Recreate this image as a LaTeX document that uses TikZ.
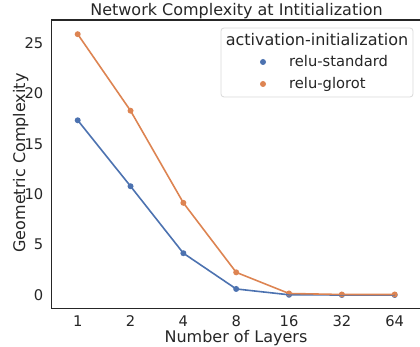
\documentclass[tikz,border=0pt]{standalone}
\usepackage{fontspec}
\setmainfont{DejaVu Sans}
\definecolor{sblue}{HTML}{4C72B0}
\definecolor{sorange}{HTML}{DD8452}
\definecolor{txt}{HTML}{262626}
\begin{document}
\begin{tikzpicture}[x=1pt,y=1pt,
  spine/.style={draw=txt,line width=1.1pt},
  tick/.style={text=txt,inner sep=0pt,font=\fontsize{14.7}{16}\selectfont},
  lbl/.style={text=txt,inner sep=0pt,font=\fontsize{16}{18}\selectfont},
  bline/.style={sblue,line width=1.6pt,line join=round},
  oline/.style={sorange,line width=1.6pt,line join=round},
  bdot/.style={circle,fill=sblue,inner sep=0pt,minimum size=6pt},
  odot/.style={circle,fill=sorange,inner sep=0pt,minimum size=6pt}]
\useasboundingbox (0,0) rectangle (420,347);
% spines
\draw[spine] (420,327) -- (51.5,327) -- (51.5,38.7) -- (420,38.7);
% title
\node[lbl,anchor=base] (title) at (236.5,331.5) {Network Complexity at Intitialization};
% y ticks
\foreach \v/\n in {0/y0,5/y5,10/y10,15/y15,20/y20,25/y25}
  \node[tick,anchor=east] (\n) at (43.5,{52+10.07*\v}) {\v};
% x ticks
\foreach \l [count=\i from 0] in {1,2,4,8,16,32,64}
  \node[tick,anchor=base] (x\i) at ({77.7+52.83*\i},20.5) {\l};
\node[lbl,anchor=base] (xlab) at (236,4.5) {Number of Layers};
\node[lbl,rotate=90,anchor=base] (ylab) at (25,184) {Geometric Complexity};
% data
\foreach \v [count=\i from 0] in {17.35,10.8,4.15,0.6,0.02,0,0}
  \node[bdot] (b\i) at ({77.7+52.83*\i},{52+10.07*\v}) {};
\foreach \v [count=\i from 0] in {25.9,18.3,9.15,2.25,0.15,0.05,0.05}
  \node[odot] (o\i) at ({77.7+52.83*\i},{52+10.07*\v}) {};
\draw[bline] (b0.center) -- (b1.center) -- (b2.center) -- (b3.center) -- (b4.center) -- (b5.center) -- (b6.center);
\draw[oline] (o0.center) -- (o1.center) -- (o2.center) -- (o3.center) -- (o4.center) -- (o5.center) -- (o6.center);
% legend
\draw[draw=black!15,fill=white,rounded corners=3pt,line width=0.8pt] (221,319) rectangle (413,250);
\node[lbl,anchor=base] (legtitle) at (317,301) {activation-initialization};
\node[bdot] (lb) at (263,285) {};
\node[odot] (lo) at (263,263) {};
\node[tick,anchor=base west] (lbt) at (289,280) {relu-standard};
\node[tick,anchor=base west] (lot) at (289,258) {relu-glorot};
\end{tikzpicture}
\end{document}
